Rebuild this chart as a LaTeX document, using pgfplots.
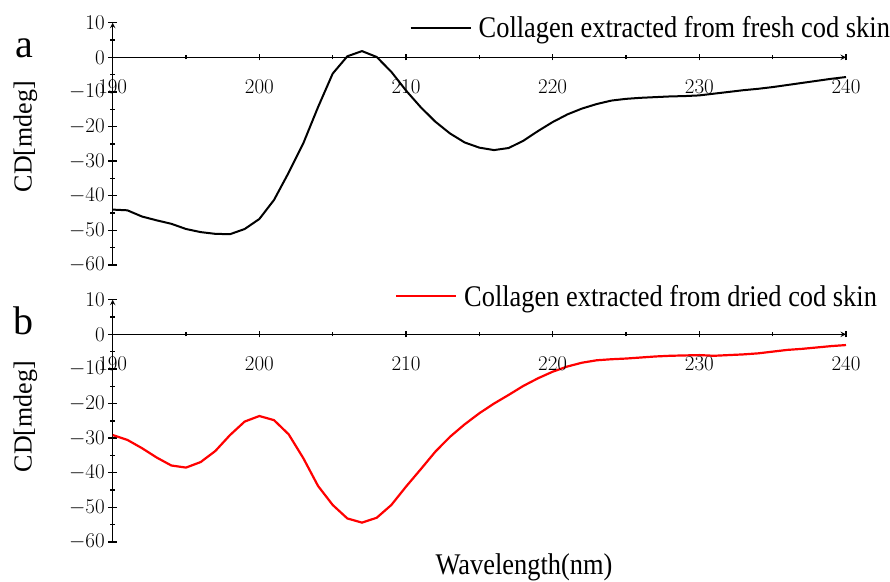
\RequirePackage{fix-cm}
\documentclass[border=0pt]{standalone}
\usepackage{fontspec}
\setmainfont{Liberation Serif}[FakeStretch=0.88]
\newfontfamily\plainserif{Liberation Serif}
\usepackage{pgfplots}
\pgfplotsset{compat=1.18}
\usepackage{pgfplotstable}

\pgfplotstableread{
x y
190 -44.0
191 -44.2
192 -46.0
193 -47.1
194 -48.1
195 -49.6
196 -50.5
197 -51.0
198 -51.1
199 -49.6
200 -46.7
201 -41.2
202 -33.3
203 -24.8
204 -14.4
205 -4.7
206 0.3
207 1.8
208 0.1
209 -4.2
210 -9.6
211 -14.4
212 -18.6
213 -22.0
214 -24.6
215 -26.1
216 -26.8
217 -26.2
218 -24.1
219 -21.3
220 -18.7
221 -16.5
222 -14.8
223 -13.5
224 -12.5
225 -12.0
226 -11.7
227 -11.5
228 -11.3
229 -11.2
230 -11.0
231 -10.5
232 -10.0
233 -9.5
234 -9.1
235 -8.6
236 -8.0
237 -7.4
238 -6.8
239 -6.2
240 -5.7
}\freshdata

\pgfplotstableread{
x y
190 -29.1
191 -30.5
192 -32.9
193 -35.6
194 -37.9
195 -38.5
196 -36.9
197 -33.7
198 -29.1
199 -25.2
200 -23.6
201 -24.8
202 -28.9
203 -35.8
204 -43.8
205 -49.3
206 -53.2
207 -54.4
208 -53.0
209 -49.3
210 -44.0
211 -39.0
212 -33.9
213 -29.6
214 -26.0
215 -22.8
216 -20.0
217 -17.5
218 -14.9
219 -12.7
220 -10.8
221 -9.3
222 -8.2
223 -7.5
224 -7.2
225 -7.0
226 -6.7
227 -6.4
228 -6.2
229 -6.1
230 -6.0
231 -6.2
232 -6.0
233 -5.8
234 -5.5
235 -5.0
236 -4.5
237 -4.2
238 -3.8
239 -3.4
240 -3.1
}\drieddata

\pgfplotsset{
  common/.style={scale only axis, width=733.3pt,
    xmin=190, xmax=240, anchor=south west,
    axis line style={-, line width=1.4pt},
    tick style={black, line width=1.4pt},
    tick label style={font=\fontsize{21}{25}\selectfont},
    tick align=outside},
  yonly/.style={common, height=242.3pt, ymin=-60, ymax=10,
    axis x line=none, axis y line=left,
    ytick={-60,-50,...,10}, minor ytick={-55,-45,...,5}, xtick=\empty,
    major tick length=9pt, minor tick length=5pt,
    legend cell align=left,
    legend style={draw=none, fill=none, inner sep=0pt, outer sep=0pt,
      font=\fontsize{30}{36}\selectfont, column sep=7pt, anchor=west,
      nodes={inner sep=0pt}},
    legend image code/.code={\draw[##1] (0pt,0pt) -- (60pt,0pt); \path (0pt,-8pt);}},
  xonly/.style={common, height=34.6pt, ymin=0, ymax=10,
    axis y line=none, axis x line=bottom,
    xtick={190,200,...,240}, minor xtick={195,205,...,235}, ytick=\empty,
    major tick length=6pt, minor tick length=4pt,
    xticklabel style={anchor=north, yshift=-16pt}},
}

\begin{document}
\begin{tikzpicture}[x=1pt,y=1pt]
\useasboundingbox (0,0) rectangle (890,581);
% panel a
\begin{axis}[yonly, at={(112.7pt,316pt)},
  legend style={at={(axis description cs:0.405,0.9785)}}]
\addplot[black, line width=2pt] table[x=x,y=y] {\freshdata};
\addlegendentry{Collagen extracted from fresh cod skin}
\end{axis}
\begin{axis}[xonly, at={(112.7pt,523.7pt)}]
\end{axis}
% panel b
\begin{axis}[yonly, at={(112.7pt,39pt)},
  legend style={at={(axis description cs:0.385,1.014)}}]
\addplot[red, line width=2.2pt] table[x=x,y=y] {\drieddata};
\addlegendentry{Collagen extracted from dried cod skin}
\end{axis}
\begin{axis}[xonly, at={(112.7pt,246.7pt)}]
\end{axis}
\node[anchor=base, font=\plainserif\fontsize{40}{48}\selectfont] at (24.2,523.7) {a};
\node[anchor=base, font=\plainserif\fontsize{40}{48}\selectfont] at (23.3,246) {b};
\node[rotate=90, anchor=base, font=\plainserif\fontsize{26}{31}\selectfont] at (31.7,444.3) {CD[mdeg]};
\node[rotate=90, anchor=base, font=\plainserif\fontsize{26}{31}\selectfont] at (31.7,164.3) {CD[mdeg]};
\node[anchor=base, font=\fontsize{30}{36}\selectfont] at (524,7) {Wavelength(nm)};
\end{tikzpicture}
\end{document}
